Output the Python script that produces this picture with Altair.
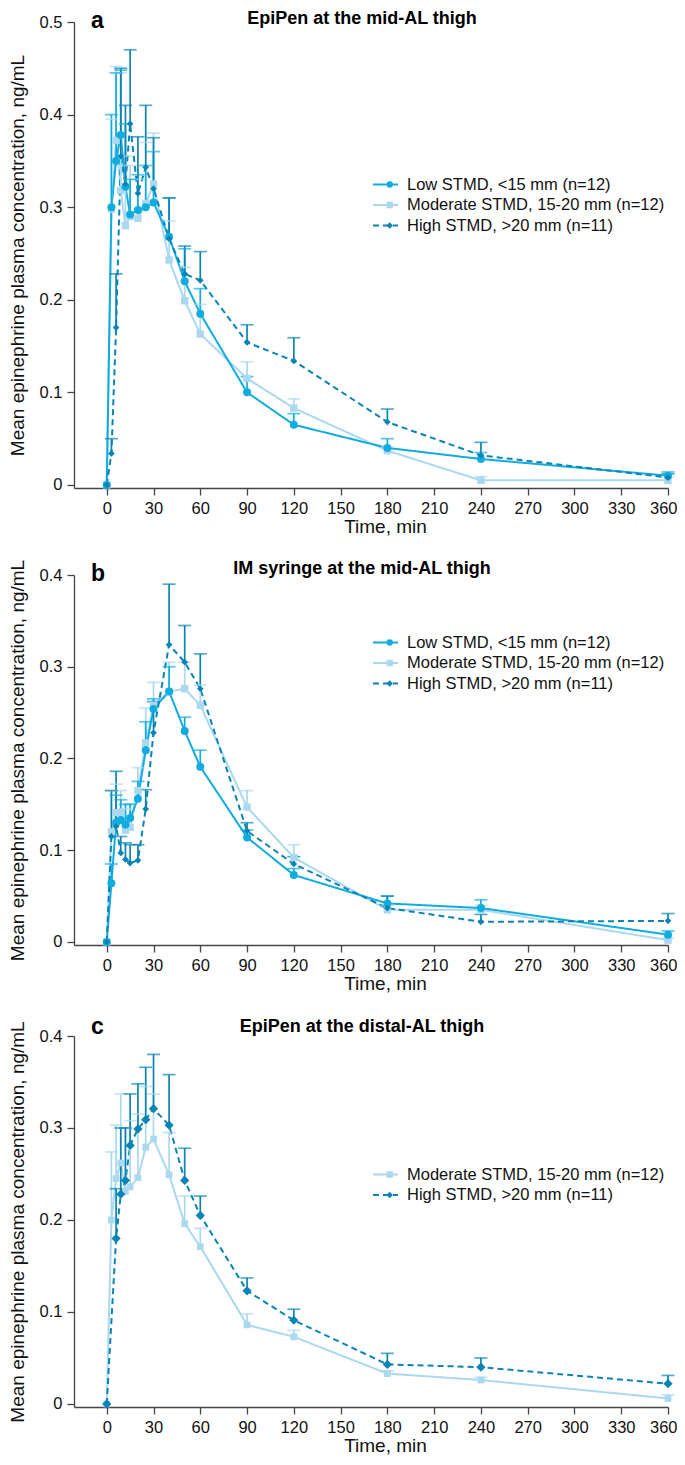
import altair as alt
import pandas as pd

FONT = "Liberation Sans"

TIMES = [0, 3, 6, 9, 12, 15, 20, 25, 30, 40, 50, 60, 90, 120, 180, 240, 360]
X_TICKS = [0, 30, 60, 90, 120, 150, 180, 210, 240, 270, 300, 330, 360]

SERIES = ["Low STMD, <15 mm (n=12)", "Moderate STMD, 15-20 mm (n=12)", "High STMD, >20 mm (n=11)"]
COLORS = ["#10ACE0", "#A9D8EF", "#0A84B4"]
SHAPES = ["circle", "square", "diamond"]
SIZES = [64, 45, 85]
DASHES = [[1, 0], [1, 0], [6, 4]]

TITLES = ["EpiPen at the mid-AL thigh", "IM syringe at the mid-AL thigh", "EpiPen at the distal-AL thigh"]
LETTERS = ["a", "b", "c"]
Y_TITLE = "Mean epinephrine plasma concentration, ng/mL"
X_TITLE = "Time, min"

# Panel a
a_low = [0, 0.300, 0.350, 0.378, 0.322, 0.292, 0.297, 0.300, 0.305, 0.268, 0.220, 0.185, 0.100, 0.065, 0.040, 0.028, 0.010]
a_low_err = [0, 0.400, 0.445, 0.448, 0.390, 0.330, 0.335, 0.345, 0.360, 0.310, 0.255, 0.212, 0.117, 0.077, 0.050, 0.035, 0.014]
a_mod = [0, 0.298, 0.372, 0.318, 0.280, 0.290, 0.288, 0.304, 0.325, 0.243, 0.199, 0.163, 0.115, 0.083, 0.037, 0.005, 0.005]
a_mod_err = [0, 0.395, 0.452, 0.445, 0.355, 0.345, 0.330, 0.370, 0.380, 0.285, 0.235, 0.195, 0.133, 0.093, 0.041, 0.009, 0.009]
a_high = [0, 0.034, 0.170, 0.355, 0.325, 0.390, 0.315, 0.343, 0.320, 0.266, 0.228, 0.221, 0.154, 0.134, 0.068, 0.032, 0.008]
a_high_err = [0, 0.050, 0.228, 0.450, 0.410, 0.470, 0.376, 0.410, 0.375, 0.310, 0.258, 0.252, 0.173, 0.159, 0.082, 0.046, 0.012]

# Panel b
b_low = [0, 0.064, 0.130, 0.133, 0.128, 0.135, 0.156, 0.209, 0.254, 0.273, 0.230, 0.191, 0.114, 0.073, 0.042, 0.037, 0.008]
b_low_err = [0, 0.085, 0.160, 0.155, 0.150, 0.150, 0.175, 0.240, 0.265, 0.300, 0.245, 0.209, 0.122, 0.080, 0.050, 0.046, 0.012]
b_mod = [0, 0.120, 0.141, 0.141, 0.122, 0.125, 0.165, 0.217, 0.258, 0.273, 0.276, 0.258, 0.147, 0.092, 0.035, 0.035, 0.002]
b_mod_err = [0, 0.165, 0.172, 0.165, 0.145, 0.150, 0.190, 0.255, 0.283, 0.305, 0.305, 0.280, 0.165, 0.106, 0.040, 0.040, 0.004]
b_high = [0, 0.115, 0.126, 0.097, 0.090, 0.086, 0.089, 0.145, 0.228, 0.324, 0.305, 0.276, 0.121, 0.085, 0.037, 0.022, 0.023]
b_high_err = [0, 0.165, 0.186, 0.115, 0.108, 0.106, 0.106, 0.166, 0.262, 0.390, 0.345, 0.314, 0.130, 0.093, 0.050, 0.030, 0.031]

# Panel c
c_mod = [0, 0.200, 0.245, 0.262, 0.231, 0.236, 0.246, 0.279, 0.288, 0.249, 0.196, 0.171, 0.086, 0.073, 0.033, 0.026, 0.006]
c_mod_err = [0, 0.274, 0.303, 0.337, 0.300, 0.308, 0.315, 0.345, 0.337, 0.295, 0.226, 0.191, 0.098, 0.080, 0.036, 0.029, 0.010]
c_high = [0, None, 0.180, 0.228, 0.243, 0.281, 0.299, 0.309, 0.321, 0.303, 0.243, 0.205, 0.123, 0.091, 0.043, 0.040, 0.022]
c_high_err = [0, None, 0.234, 0.300, 0.300, 0.337, 0.348, 0.366, 0.380, 0.358, 0.278, 0.226, 0.137, 0.103, 0.055, 0.050, 0.031]

Y_TICKS_A = [0, 0.1, 0.2, 0.3, 0.4, 0.5]
Y_TICKS_BC = [0, 0.1, 0.2, 0.3, 0.4]

PLOT_W = 594


def panel(idx, series, ymax, yticks, height, leg_y, title_y, letter_y):
    rows = []
    order = {1: 0, 0: 1, 2: 2}  # draw moderate first, then low, then high
    for si, vals, errs in sorted(series, key=lambda s: order[s[0]]):
        for t, v, e in zip(TIMES, vals, errs):
            if v is None:
                continue
            rows.append({"t": t, "v": v, "e": e, "s": SERIES[si]})
    df = pd.DataFrame(rows)
    err_df = df[df["e"] > df["v"] + 1e-9]

    idxs = [s[0] for s in series]
    dom = [SERIES[i] for i in idxs]
    cscale = alt.Scale(domain=dom, range=[COLORS[i] for i in idxs])
    sscale = alt.Scale(domain=dom, range=[SHAPES[i] for i in idxs])
    zscale = alt.Scale(domain=dom, range=[SIZES[i] for i in idxs])
    dscale = alt.Scale(domain=dom, range=[DASHES[i] for i in idxs])

    xenc = alt.X("t:Q", scale=alt.Scale(domain=[-21, 360], nice=False, zero=False),
                 axis=alt.Axis(values=X_TICKS, title=X_TITLE, titleX=311,
                               labelFlush=1, labelFlushOffset=9))
    yenc = alt.Y("v:Q", scale=alt.Scale(domain=[-0.0033, ymax], nice=False, zero=False),
                 axis=alt.Axis(values=yticks, format="~g", title=Y_TITLE, labelFlush=False))

    lx = 298
    common = dict(orient="none", legendY=leg_y, title=None, labelFontSize=16.5,
                  labelFont=FONT, labelOffset=8, rowPadding=3.5, padding=0,
                  clipHeight=17, labelLimit=500)
    leg_line = alt.Legend(legendX=lx, symbolType="stroke", symbolSize=625,
                          symbolStrokeWidth=2, labelColor="#111", **common)
    leg_pt = alt.Legend(legendX=lx + 9.5, symbolSize=40, symbolStrokeWidth=0,
                        symbolOpacity=1, labelExpr="''", **common)

    rules = alt.Chart(err_df).mark_rule(strokeWidth=1.7).encode(
        x=alt.X("t:Q"), y=alt.Y("v:Q"), y2="e:Q",
        color=alt.Color("s:N", scale=cscale, legend=None))
    caps = alt.Chart(err_df).mark_tick(orient="horizontal", size=13, thickness=1.7).encode(
        x=alt.X("t:Q"), y=alt.Y("e:Q"),
        color=alt.Color("s:N", scale=cscale, legend=None))
    lines = alt.Chart(df).mark_line(strokeWidth=2).encode(
        x=xenc, y=yenc,
        color=alt.Color("s:N", scale=cscale, legend=leg_line),
        strokeDash=alt.StrokeDash("s:N", scale=dscale, legend=leg_line))
    pts = alt.Chart(df).mark_point(filled=True, opacity=1).encode(
        x=alt.X("t:Q"), y=alt.Y("v:Q"),
        color=alt.Color("s:N", scale=cscale, legend=leg_pt),
        shape=alt.Shape("s:N", scale=sscale, legend=leg_pt),
        size=alt.Size("s:N", scale=zscale, legend=None))
    letter = alt.Chart(pd.DataFrame({"l": [LETTERS[idx]]})).mark_text(
        fontSize=23, fontWeight="bold", font=FONT, align="left", baseline="middle", color="#000"
    ).encode(x=alt.value(17), y=alt.value(letter_y), text="l:N")
    title = alt.Chart(pd.DataFrame({"l": [TITLES[idx]]})).mark_text(
        fontSize=18, fontWeight="bold", font=FONT, align="center", baseline="middle", color="#000"
    ).encode(x=alt.value(288), y=alt.value(title_y), text="l:N")

    return alt.layer(lines, rules, caps, pts, letter, title).resolve_legend(
        color="independent", shape="independent", strokeDash="independent"
    ).properties(width=PLOT_W, height=height)


pa = panel(0, [(0, a_low, a_low_err), (1, a_mod, a_mod_err), (2, a_high, a_high_err)],
           0.5, Y_TICKS_A, 466, 154, -3, -1)
pb = panel(1, [(0, b_low, b_low_err), (1, b_mod, b_mod_err), (2, b_high, b_high_err)],
           0.4, Y_TICKS_BC, 370, 59, -6, -1)
pc = panel(2, [(1, c_mod, c_mod_err), (2, c_high, c_high_err)],
           0.4, Y_TICKS_BC, 371, 130, -9, -9)

chart = alt.vconcat(pa, pb, pc, spacing=22).resolve_scale(
    color="independent", shape="independent", strokeDash="independent", size="independent"
).properties(
    padding={"left": 0, "top": 2, "right": 0, "bottom": 0}
).configure_view(stroke=None).configure_axis(
    labelFont=FONT, titleFont=FONT, labelFontSize=16.5, titleFontSize=19,
    titleFontWeight="normal", labelColor="#111", titleColor="#111",
    domainColor="#444", tickColor="#444", domainWidth=1.3, tickWidth=1.3,
    tickSize=7, labelPadding=5, grid=False
).configure_axisY(titlePadding=12).configure_axisX(titlePadding=1)

chart.save("out.html", embed_options={"renderer": "svg", "actions": False})
